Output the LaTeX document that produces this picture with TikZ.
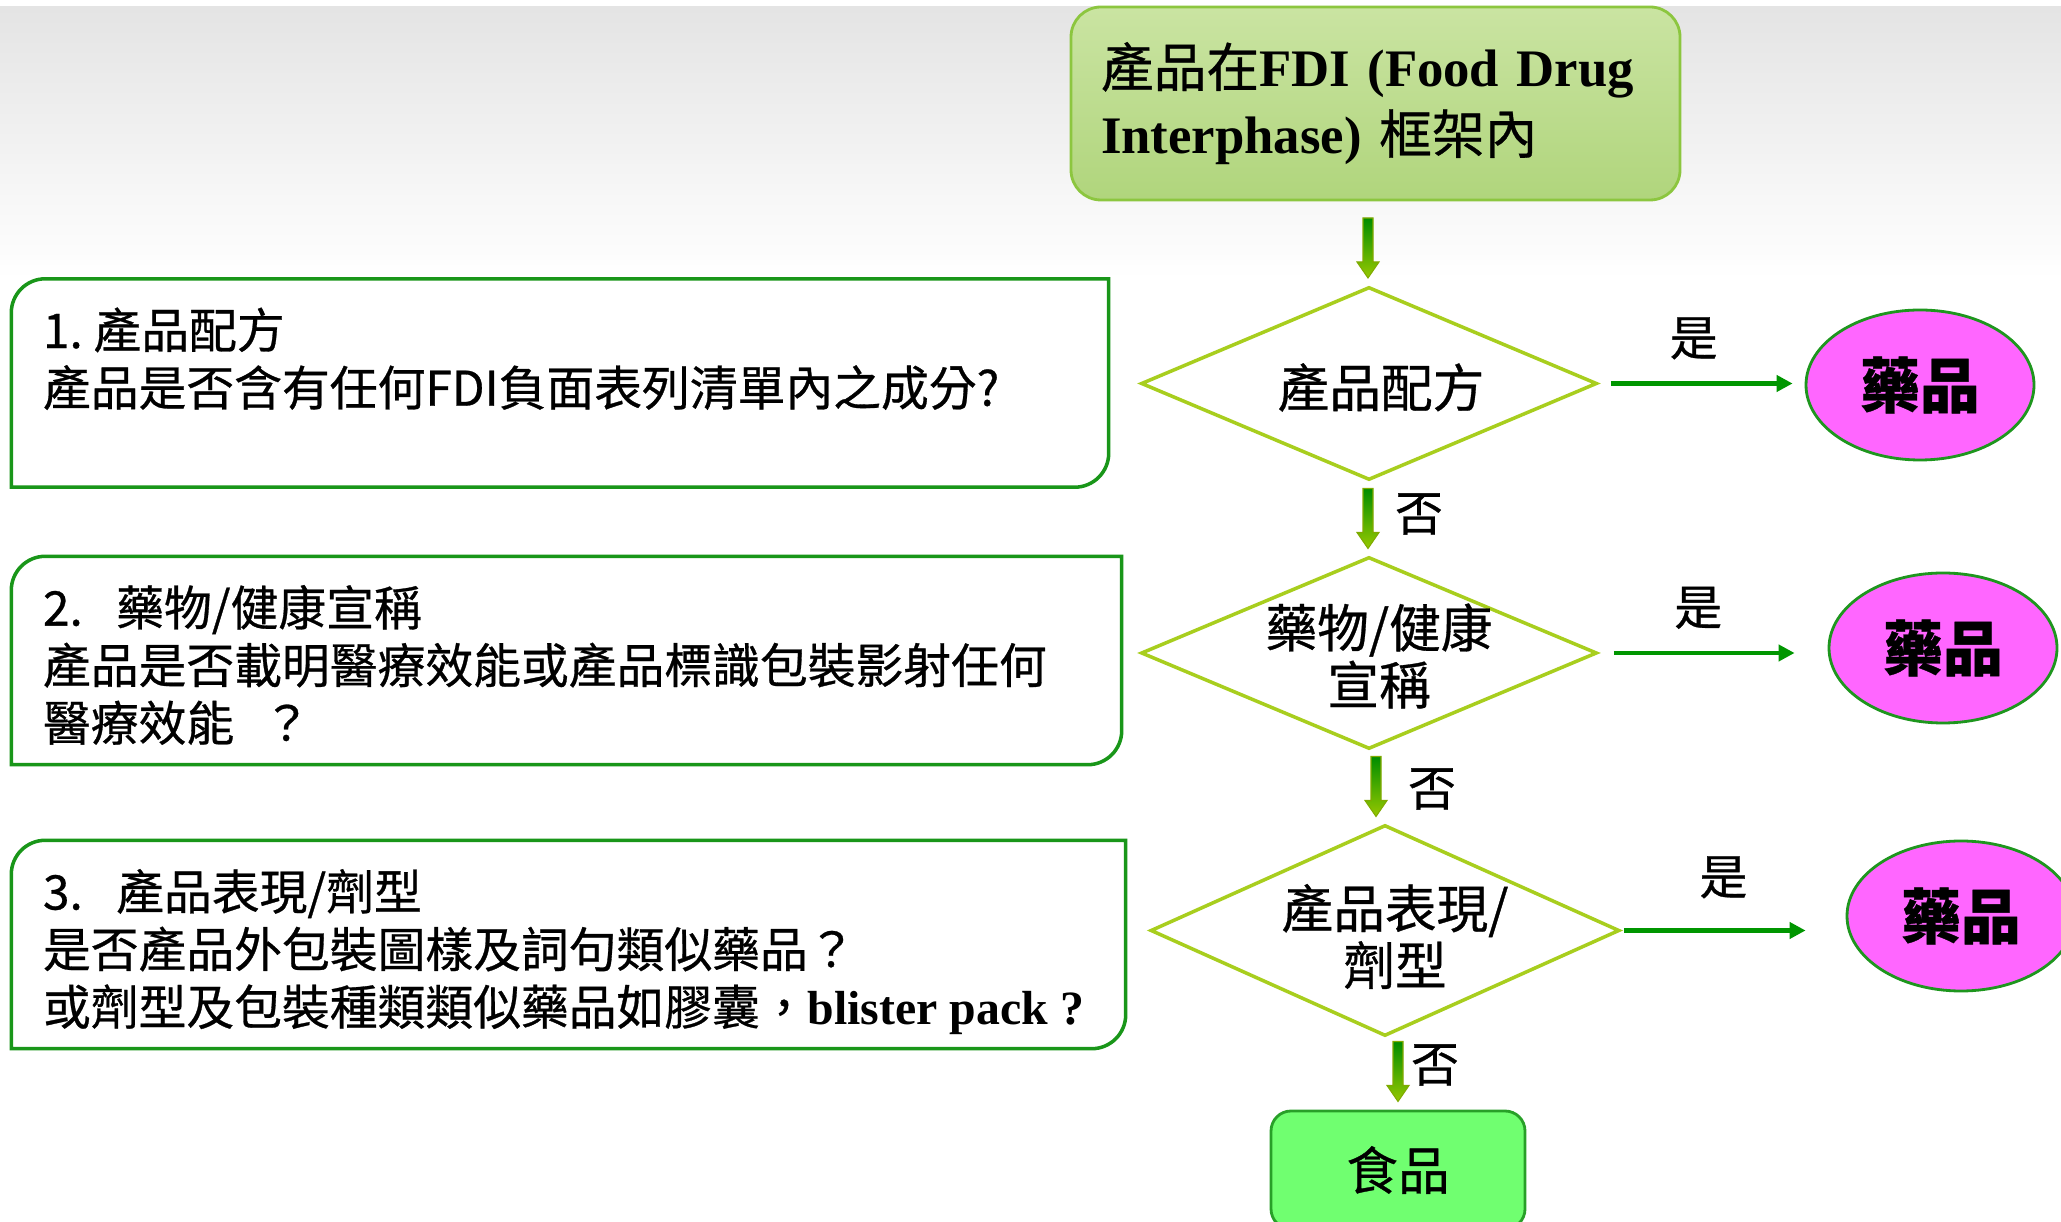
\documentclass[tikz,border=0pt]{standalone}
\usepackage{fontspec}
\setmainfont{Liberation Serif}
\newfontfamily\cjk[FakeBold=0.6]{Noto Sans CJK TC}
\newfontfamily\tms{Liberation Serif}
\usetikzlibrary{shapes.geometric, arrows.meta}
\definecolor{bggrey}{RGB}{228,228,228}
\definecolor{topfilltop}{RGB}{202,228,162}
\definecolor{topfillbot}{RGB}{176,213,124}
\definecolor{topline}{RGB}{140,198,63}
\definecolor{dialine}{RGB}{168,206,30}
\definecolor{qgreen}{RGB}{25,150,25}
\definecolor{yesgreen}{RGB}{0,150,0}
\definecolor{drugfill}{RGB}{255,102,255}
\definecolor{drugline}{RGB}{30,150,30}
\definecolor{foodfill}{RGB}{112,255,112}
\definecolor{foodline}{RGB}{40,160,40}
\definecolor{arrowtop}{RGB}{0,140,0}
\definecolor{arrowbot}{RGB}{150,200,0}
\tikzstyle{topbox} = [draw=topline,line width=0.8pt,rounded corners=0.3cm,top color=topfilltop,bottom color=topfillbot,minimum height=1.93cm,text width=5.49cm,inner xsep=0.3cm,align=left,font=\cjk\fontsize{15}{19}\selectfont]
\tikzstyle{dia} = [diamond,draw=dialine,line width=1pt,fill=white,inner sep=0pt]
\tikzstyle{diatext} = [inner sep=0pt,align=center,font=\cjk\fontsize{14.7}{16.2}\selectfont]
\tikzstyle{drug} = [ellipse,draw=drugline,line width=0.8pt,fill=drugfill,minimum width=2.28cm,minimum height=1.5cm,font=\cjk\bfseries\fontsize{17}{20}\selectfont]
\tikzstyle{food} = [rectangle,rounded corners=0.2cm,draw=foodline,line width=0.8pt,fill=foodfill,minimum width=2.54cm,minimum height=1.18cm,font=\cjk\fontsize{14.7}{17}\selectfont]
\tikzstyle{qbox} = [rectangle,inner sep=0pt,minimum height=2.07cm]
\tikzstyle{qline} = [draw=qgreen,line width=1pt]
\tikzstyle{qtext} = [anchor=north west,inner sep=0pt,align=left,font=\cjk\fontsize{13.6}{16.4}\selectfont]
\tikzstyle{yes} = [draw=yesgreen,line width=1.2pt,-{Triangle[length=0.16cm,width=0.16cm]}]
\tikzstyle{lbl} = [inner sep=0pt,font=\cjk\fontsize{13.6}{16}\selectfont]
\newcommand{\qframe}[1]{\draw[qline] (#1.south west) -- ([yshift=-0.34cm]#1.north west) arc[start angle=180,end angle=90,radius=0.34cm] -- (#1.north east) -- ([yshift=0.34cm]#1.south east) arc[start angle=0,end angle=-90,radius=0.34cm] -- cycle;}
\newcommand{\gradarrow}[1]{\shadedraw[top color=arrowtop,bottom color=arrowbot,draw=arrowbot!85!black,line width=0.3pt] ([xshift=-0.05cm,yshift=0.3cm]#1) -- ([xshift=0.05cm,yshift=0.3cm]#1) -- ([xshift=0.05cm,yshift=-0.14cm]#1) -- ([xshift=0.11cm,yshift=-0.14cm]#1) -- ([yshift=-0.3cm]#1) -- ([xshift=-0.11cm,yshift=-0.14cm]#1) -- ([xshift=-0.05cm,yshift=-0.14cm]#1) -- cycle;}

\begin{document}
\begin{tikzpicture}
		\useasboundingbox[fill=white] (0,0) rectangle (20.61,-12.22);
		\shade[top color=bggrey,bottom color=white] (0,-0.07) rectangle (20.61,-2.8);

		\node [topbox] (top) at (13.755,-1.035) {產品在{\tms\bfseries FDI (Food Drug}\\{\tms\bfseries Interphase)} 框架內};
		\node [dia,minimum width=4.56cm,minimum height=1.93cm] (d1) at (13.69,-3.835) {};
		\node [dia,minimum width=4.56cm,minimum height=1.92cm] (d2) at (13.69,-6.53) {};
		\node [dia,minimum width=4.69cm,minimum height=2.11cm] (d3) at (13.85,-9.305) {};
		\node [diatext] (d1t) at ([xshift=0.12cm,yshift=-0.04cm]d1) {產品配方};
		\node [diatext] (d2t) at ([xshift=0.1cm,yshift=-0.03cm]d2) {藥物/健康\\宣稱};
		\node [diatext] (d3t) at ([xshift=0.1cm,yshift=-0.06cm]d3) {產品表現/\\劑型};
		\node [drug] (e1) at (19.20,-3.85) {藥品};
		\node [drug] (e2) at (19.43,-6.48) {藥品};
		\node [drug] (e3) at (19.61,-9.16) {藥品};
		\node [food] (f) at (13.98,-11.70) {食品};

		\node [qbox,minimum width=10.96cm] (b1) at (5.60,-3.83) {};
		\node [qbox,minimum width=11.09cm] (b2) at (5.665,-6.605) {};
		\node [qbox,minimum width=11.13cm] (b3) at (5.685,-9.445) {};
		\qframe{b1}
		\qframe{b2}
		\qframe{b3}
		\node [qtext] (t1) at ([xshift=0.31cm,yshift=-0.28cm]b1.north west) {1.~產品配方\\產品是否含有任何FDI負面表列清單內之成分?};
		\node [qtext] (t2) at ([xshift=0.31cm,yshift=-0.28cm]b2.north west) {2.\hspace{0.7em}藥物/健康宣稱\\產品是否載明醫療效能或產品標識包裝影射任何\\醫療效能\hspace{0.6em}？};
		\node [qtext] (t3) at ([xshift=0.31cm,yshift=-0.28cm]b3.north west) {3.\hspace{0.7em}產品表現/劑型\\是否產品外包裝圖樣及詞句類似藥品？\\或劑型及包裝種類類似藥品如膠囊，{\tms\bfseries blister pack ?}};

		\coordinate (a1) at (13.68,-2.48);
		\coordinate (a2) at (13.68,-5.185);
		\coordinate (a3) at (13.76,-7.865);
		\coordinate (a4) at (13.98,-10.715);
		\gradarrow{a1}
		\gradarrow{a2}
		\gradarrow{a3}
		\gradarrow{a4}
		\node [lbl] (n1) at (14.19,-5.14) {否};
		\node [lbl] (n2) at (14.32,-7.89) {否};
		\node [lbl] (n3) at (14.35,-10.65) {否};

		\draw[yes,shorten <=0.12cm,shorten >=0.12cm](d1.east)--node[lbl,midway,above=0.22cm,xshift=-0.08cm]{是}(d1.east -| e1.west);
		\draw[yes,shorten <=0.15cm,shorten >=0.33cm](d2.east)--node[lbl,midway,above=0.22cm,xshift=-0.15cm]{是}(d2.east -| e2.west);
		\draw[yes,shorten <=0.03cm,shorten >=0.40cm](d3.east)--node[lbl,midway,above=0.30cm,xshift=-0.10cm]{是}(d3.east -| e3.west);
\end{tikzpicture}
\end{document}
